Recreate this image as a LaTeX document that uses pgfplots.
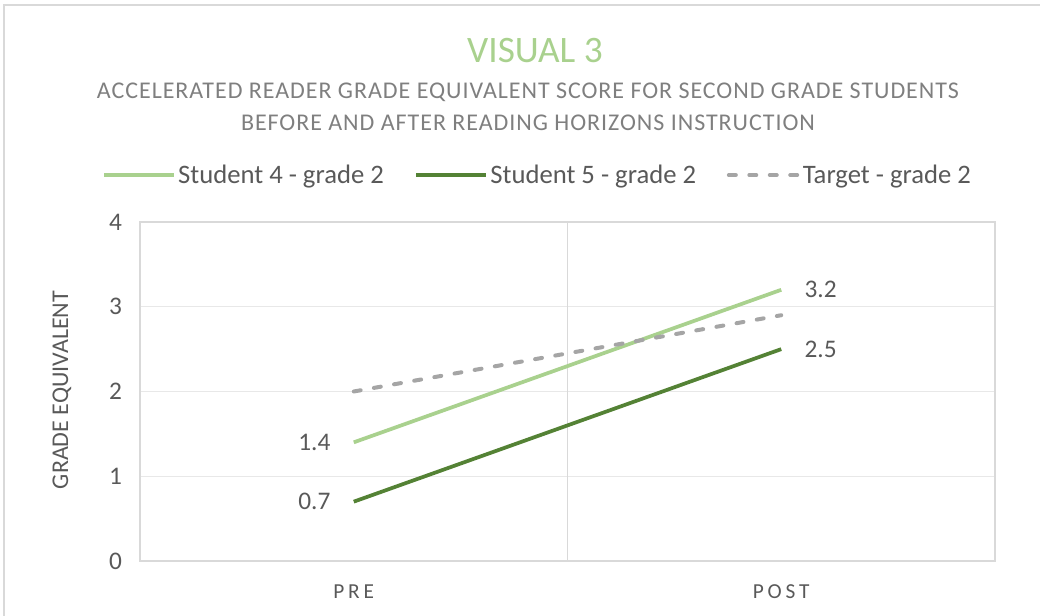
\documentclass[border=0pt]{standalone}
\usepackage{pgfplots}
\pgfplotsset{compat=1.18}
\usepackage{fontspec}
\setmainfont{Carlito}
\definecolor{LightG}{HTML}{A9D18E}
\definecolor{DarkG}{HTML}{548235}
\definecolor{Tgt}{HTML}{A5A5A5}
\definecolor{Txt}{HTML}{595959}
\definecolor{Sub}{HTML}{7F7F7F}
\definecolor{GridC}{HTML}{D9D9D9}
\begin{document}
\begin{tikzpicture}[x=0.75pt,y=0.75pt]
\useasboundingbox (0,0) rectangle (1040,615);
\draw[GridC,line width=0.8pt] (4,-20) -- (4,610) -- (1060,610);
\node[LightG,font=\fontsize{28}{32}\selectfont] at (535,564) {VISUAL 3};
\node[Sub,font=\fontsize{18}{22}\selectfont\addfontfeature{LetterSpace=4},align=center] at (528,508)
  {ACCELERATED READER GRADE EQUIVALENT SCORE FOR SECOND GRADE STUDENTS\\[2pt]BEFORE AND AFTER READING HORIZONS INSTRUCTION};
\node[Txt,rotate=90,font=\fontsize{18}{20}\selectfont] at (62,225) {GRADE EQUIVALENT};
\begin{axis}[
  at={(105pt,40.5pt)},anchor=south west,scale only axis,
  width=641.25pt,height=254.25pt,
  xmin=0,xmax=2,ymin=0,ymax=4,
  xtick={0.5,1.5},xticklabels={PRE,POST},
  ytick={0,1,2,3,4},
  extra x ticks={1},extra x tick labels={},
  extra x tick style={grid=major,major grid style={GridC,line width=0.8pt},major tick length=0pt},
  major tick length=0pt,
  ymajorgrids,grid style={GridC!60,line width=0.8pt},
  axis line style={GridC,line width=0.8pt},
  /pgf/number format/assume math mode=true,
  tick label style={Txt,font=\fontsize{19}{20}\selectfont},
  xticklabel style={yshift=-14pt,font=\fontsize{16}{18}\selectfont\addfontfeature{LetterSpace=18}},
  yticklabel style={xshift=-10pt},
  clip=false,
  legend style={at={(0.4655,1.1386)},anchor=center,draw=none,fill=none,
    font=\fontsize{20}{22}\selectfont,text=Txt,legend columns=3,
    /tikz/every even column/.append style={column sep=21pt},
    legend cell align=left},
  legend image code/.code={\draw[#1] (0pt,0pt) -- (52pt,0pt);},
]
\addplot[LightG,line width=2.8pt] coordinates {(0.5,1.4) (1.5,3.2)};
\addlegendentry{Student 4 - grade 2}
\addplot[DarkG,line width=2.8pt] coordinates {(0.5,0.7) (1.5,2.5)};
\addlegendentry{Student 5 - grade 2}
\addplot[Tgt,line width=3pt,line cap=round,dash pattern=on 5.25pt off 10.1pt] coordinates {(0.5,2.0) (1.5,2.9)};
\addlegendentry{Target - grade 2}
\begin{scope}[font=\fontsize{19}{20}\selectfont,text=Txt]
\node[anchor=east,xshift=-14pt] at (axis cs:0.5,1.4) {1.4};
\node[anchor=east,xshift=-14pt] at (axis cs:0.5,0.7) {0.7};
\node[anchor=west,xshift=14pt] at (axis cs:1.5,3.2) {3.2};
\node[anchor=west,xshift=14pt] at (axis cs:1.5,2.5) {2.5};
\end{scope}
\end{axis}
\end{tikzpicture}
\end{document}
